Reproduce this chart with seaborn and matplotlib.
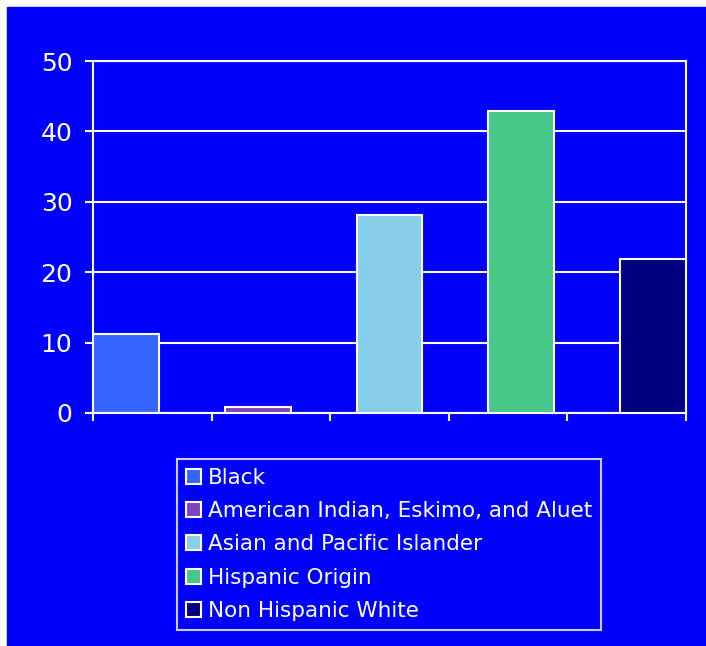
import matplotlib
matplotlib.use("Agg")
import matplotlib.pyplot as plt
from matplotlib.patches import Patch, Rectangle
import numpy as np
import pandas as pd
import seaborn as sns

groups = ["Black", "American Indian, Eskimo, and Aluet",
          "Asian and Pacific Islander", "Hispanic Origin", "Non Hispanic White"]
values = [11.2, 0.9, 28.1, 42.9, 21.9]
colors = ["#3366ff", "#8040c0", "#87ceeb", "#48c888", "#000080"]
yticks = [0, 10, 20, 30, 40, 50]

BG = "#0000ff"
df = pd.DataFrame({"group": groups, "value": values})

sns.set_theme(style="white")
plt.rcParams["font.family"] = ["DejaVu Sans"]

fig = plt.figure(figsize=(7.06, 6.46), dpi=100, facecolor="white")
# blue panel, white strip only on top and left
fig.patches.append(Rectangle((7 / 706, -0.01), 1, 1 - 7 / 646 + 0.01,
                             transform=fig.transFigure, color=BG, zorder=-10))
ax = fig.add_axes([93 / 706, 1 - 413 / 646, 593 / 706, 352 / 646])
ax.set_facecolor(BG)

sns.barplot(data=df, x="group", y="value", hue="group", palette=colors,
            order=groups, hue_order=groups, width=0.5, dodge=False,
            saturation=1, legend=False, edgecolor="white", linewidth=1.5,
            ax=ax, zorder=3)

ax.set_xlim(-0.25, 4.25)
ax.set_ylim(0, 50)
ax.set_yticks(yticks)
ax.set_xticks(np.linspace(-0.25, 4.25, 6))
ax.set_xticklabels([])
ax.set_xlabel("")
ax.set_ylabel("")
ax.yaxis.grid(True, color="white", lw=1.5)
ax.set_axisbelow(True)
for s in ax.spines.values():
    s.set_color("white")
    s.set_linewidth(1.5)
ax.tick_params(axis="both", colors="white", direction="out", length=5.8,
               width=1.5, labelsize=18, labelcolor="white")
ax.tick_params(axis="y", pad=9, left=True)
ax.tick_params(axis="x", bottom=True)

handles = [Patch(facecolor=c, edgecolor="white", lw=1.5) for c in colors]
leg = fig.legend(handles, groups, loc="upper left",
                 bbox_to_anchor=(177 / 706, 1 - 459 / 646),
                 bbox_transform=fig.transFigure, borderaxespad=0,
                 fontsize=15.5, frameon=True, fancybox=False,
                 handlelength=0.7, handleheight=0.7, handletextpad=0.35,
                 labelspacing=0.62, borderpad=0.4)
leg.get_frame().set_facecolor(BG)
leg.get_frame().set_edgecolor("white")
leg.get_frame().set_linewidth(1.5)
for t in leg.get_texts():
    t.set_color("white")

fig.savefig("out.png", dpi=100, facecolor="white")
